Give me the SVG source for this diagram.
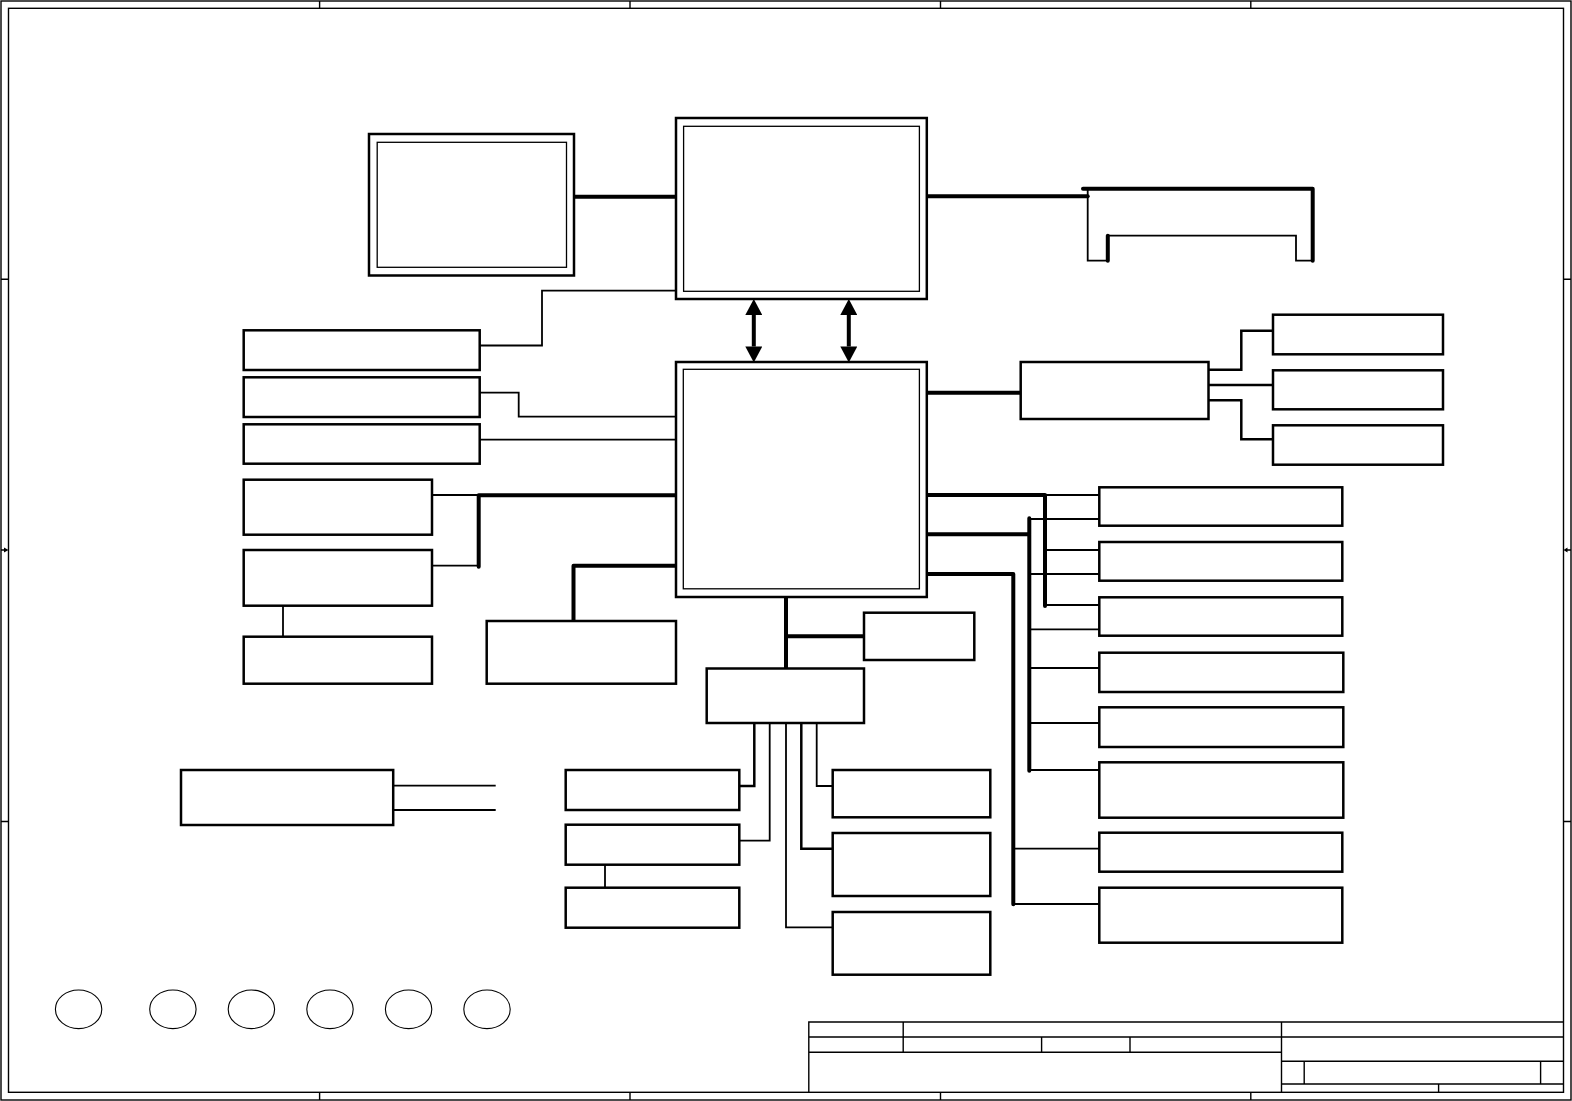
<svg xmlns="http://www.w3.org/2000/svg" width="1572" height="1101" viewBox="0 0 1572 1101">
<style>
.frame{fill:none;stroke:#000;stroke-width:1.4}
.box{fill:#fff;stroke:#000;stroke-width:2.5}
.inner{fill:none;stroke:#000;stroke-width:1.3}
.thin{fill:none;stroke:#000;stroke-width:1.8}
.med{fill:none;stroke:#000;stroke-width:2.5}
.bus{fill:none;stroke:#000;stroke-width:4;stroke-linecap:round;stroke-linejoin:round}
.arr{fill:none;stroke:#000;stroke-width:4}
.circ{fill:none;stroke:#000;stroke-width:1.1}
</style>
<defs>
<marker id="ah" markerUnits="userSpaceOnUse" markerWidth="16" markerHeight="17" viewBox="0 0 15 16" refX="0" refY="8" orient="auto-start-reverse">
<path d="M0,0 L15,8 L0,16 z" fill="#000"/>
</marker>
</defs>
<rect width="1572" height="1101" fill="#fff"/>
<g id="frame">
<rect class="frame" x="1" y="1" width="1570" height="1099"/>
<rect class="frame" x="8.5" y="8.3" width="1555" height="1084"/>
<path class="frame" d="M319.6,1V8.3M630,1V8.3M940.5,1V8.3M1250.8,1V8.3M319.6,1092.3V1100M630,1092.3V1100M940.5,1092.3V1100M1250.8,1092.3V1100M1,279.3H8.5M1,821.5H8.5M1563.5,279.3H1571M1563.5,821.5H1571M1,550H5M1567,550H1571"/>
<path d="M4,547.5L8.5,550L4,552.5z M1567.5,547.5L1563.5,550L1567.5,552.5z" fill="#000"/>
</g>
<g id="title-block">
<path class="frame" d="M808.8,1092.3V1022H1563.5M808.8,1037H1563.5M808.8,1052.3H1281.5M903.2,1022V1052.3M1281.5,1022V1092.3M1041.6,1037V1052.3M1130,1037V1052.3M1281.5,1061.3H1563.5M1281.5,1084H1563.5M1304.2,1061.3V1084M1540.6,1061.3V1084M1438.6,1084V1092.3"/>
</g>
<g id="connectors">
<path class="bus" d="M574,196.7H676"/>
<path class="thin" d="M676,290.7H542V345.5H479.7"/>
<path class="bus" d="M926.8,196.3H1087.7"/>
<path class="arr" d="M753.8,315V346.5" marker-start="url(#ah)" marker-end="url(#ah)"/>
<path class="arr" d="M848.8,315V346.5" marker-start="url(#ah)" marker-end="url(#ah)"/>
<path class="thin" d="M479.7,392.7H518.7V416.7H676"/>
<path class="thin" d="M479.7,439.7H676"/>
<path class="thin" d="M432,495H478.7M432,565.7H478.7"/>
<path class="bus" d="M676,495.3H478.7V566.7"/>
<path class="thin" d="M283,605.7V636.7"/>
<path class="bus" d="M676,565.7H573.5V621"/>
<path class="bus" d="M926.8,392.7H1020.7"/>
<path class="med" d="M1208.5,369.7H1241.3V330.7H1273M1208.5,385H1273M1208.5,400.3H1241.3V439.3H1273"/>
<path class="bus" d="M926.8,495H1045V606"/>
<path class="thin" d="M1045,495H1099.3M1045,550H1099.3M1045,605H1099.3"/>
<path class="bus" d="M926.8,534.3H1029.3M1029.3,518.3V770.7"/>
<path class="thin" d="M1029.3,519H1099.3M1029.3,574H1099.3M1029.3,629.3H1099.3M1029.3,668H1099.3M1029.3,723H1099.3M1029.3,770H1099.3"/>
<path class="bus" d="M926.8,574H1013.3V904.3"/>
<path class="thin" d="M1013.3,848.7H1099.3M1013.3,904H1099.3"/>
<path class="bus" d="M786,597V668.5M786,636.3H864"/>
<path class="med" d="M754.3,723V786H739.3"/>
<path class="thin" d="M769.7,723V840.7H739.3"/>
<path class="thin" d="M786,723V927.3H832.7"/>
<path class="med" d="M801.3,723V848.7H832.7"/>
<path class="thin" d="M816.7,723V786H832.7"/>
<path class="thin" d="M605,864.7V887.7"/>
<path class="thin" d="M393.2,785.7H495.7M393.2,810H495.7"/>
</g>
<g id="node-A"><rect class="box" x="369" y="134" width="205" height="141.5"/><rect class="inner" x="377.2" y="142.3" width="189.3" height="125"/></g>
<g id="node-B"><rect class="box" x="676" y="118" width="250.8" height="181"/><rect class="inner" x="683.6" y="126.3" width="235.8" height="165"/></g>
<g id="node-C"><rect class="box" x="676" y="362" width="250.8" height="235"/><rect class="inner" x="683.3" y="369.3" width="236.1" height="219.5"/></g>
<g id="node-P"><path class="bus" d="M1083,188.7H1312.7V260.7"/><path class="thin" d="M1087.7,188.7V260.7H1107.8M1107.8,235.7H1296V260.7H1312.7"/><path class="bus" d="M1107.8,235.7V260.7"/></g>
<g id="node-F"><rect class="box" x="1020.7" y="362" width="187.8" height="57"/></g>
<g id="node-G1"><rect class="box" x="1273" y="314.7" width="170" height="39.6"/></g>
<g id="node-G2"><rect class="box" x="1273" y="370.3" width="170" height="39"/></g>
<g id="node-G3"><rect class="box" x="1273" y="425.3" width="170" height="39.4"/></g>
<g id="node-C1"><rect class="box" x="243.7" y="330.3" width="236" height="39.7"/></g>
<g id="node-C2"><rect class="box" x="243.7" y="377.3" width="236" height="39.7"/></g>
<g id="node-C3"><rect class="box" x="243.7" y="424.3" width="236" height="39.4"/></g>
<g id="node-D1"><rect class="box" x="243.7" y="479.7" width="188.3" height="55"/></g>
<g id="node-D2"><rect class="box" x="243.7" y="550" width="188.3" height="55.7"/></g>
<g id="node-D3"><rect class="box" x="243.7" y="636.7" width="188.3" height="47"/></g>
<g id="node-E"><rect class="box" x="486.7" y="621" width="189.3" height="62.7"/></g>
<g id="node-I"><rect class="box" x="864" y="612.7" width="110.3" height="47.3"/></g>
<g id="node-J"><rect class="box" x="706.7" y="668.5" width="157.3" height="54.5"/></g>
<g id="node-K1"><rect class="box" x="565.7" y="770" width="173.6" height="40"/></g>
<g id="node-K2"><rect class="box" x="565.7" y="824.7" width="173.6" height="40"/></g>
<g id="node-K3"><rect class="box" x="565.7" y="887.7" width="173.6" height="40"/></g>
<g id="node-M1"><rect class="box" x="832.7" y="770" width="157.6" height="47.3"/></g>
<g id="node-M2"><rect class="box" x="832.7" y="833" width="157.6" height="63"/></g>
<g id="node-M3"><rect class="box" x="832.7" y="912" width="157.6" height="62.7"/></g>
<g id="node-H1"><rect class="box" x="1099.3" y="487.3" width="243" height="38.4"/></g>
<g id="node-H2"><rect class="box" x="1099.3" y="542" width="243" height="38.7"/></g>
<g id="node-H3"><rect class="box" x="1099.3" y="597.3" width="243" height="38.4"/></g>
<g id="node-H4"><rect class="box" x="1099.3" y="652.7" width="244" height="39.3"/></g>
<g id="node-H5"><rect class="box" x="1099.3" y="707.3" width="244" height="39.7"/></g>
<g id="node-H6"><rect class="box" x="1099.3" y="762.3" width="244" height="55.4"/></g>
<g id="node-H7"><rect class="box" x="1099.3" y="832.7" width="243" height="39"/></g>
<g id="node-H8"><rect class="box" x="1099.3" y="887.7" width="243" height="55"/></g>
<g id="node-N"><rect class="box" x="181" y="770" width="212.2" height="55"/></g>
<g id="node-circles">
<ellipse class="circ" cx="78.6" cy="1009.3" rx="23.2" ry="19.3"/>
<ellipse class="circ" cx="172.9" cy="1009.3" rx="23.2" ry="19.3"/>
<ellipse class="circ" cx="251.4" cy="1009.3" rx="23.2" ry="19.3"/>
<ellipse class="circ" cx="330" cy="1009.3" rx="23.2" ry="19.3"/>
<ellipse class="circ" cx="408.6" cy="1009.3" rx="23.2" ry="19.3"/>
<ellipse class="circ" cx="487" cy="1009.3" rx="23.2" ry="19.3"/>
</g>
</svg>
